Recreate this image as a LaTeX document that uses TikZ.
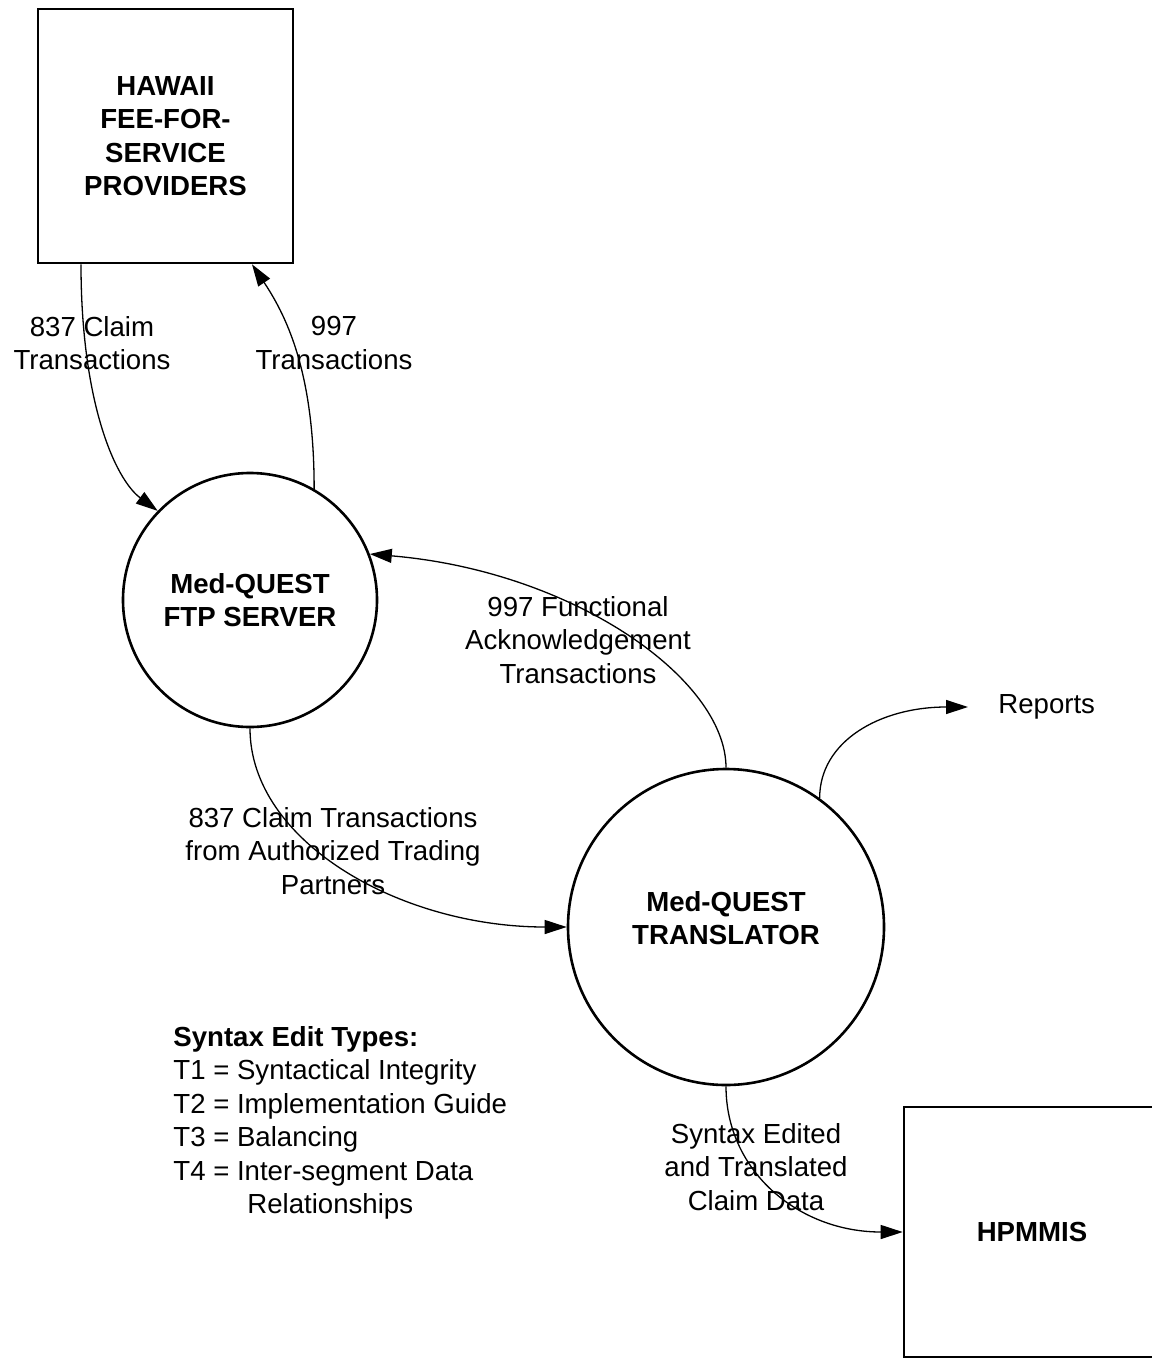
\documentclass[tikz,border=0pt]{standalone}
\usepackage{fontspec}
\setmainfont{Liberation Sans}
\usetikzlibrary{arrows.meta}

\begin{document}
\begin{tikzpicture}[x=0.5pt,y=-0.5pt,
  every node/.style={font=\fontsize{13.8}{16.75}\selectfont, align=center},
  entity/.style={draw, line width=1.3pt, minimum width=127.5pt, minimum height=127pt,
    font=\fontsize{13.8}{16.75}\selectfont\bfseries},
  proc/.style={draw, circle, line width=1.3pt, inner sep=0pt,
    font=\fontsize{13.8}{16.75}\selectfont\bfseries},
  bold/.style={font=\fontsize{13.8}{16.75}\selectfont\bfseries},
  flow/.style={line width=0.65pt, -{Triangle[length=11pt,width=7pt]}}]
  \useasboundingbox (0,0) rectangle (1151,1359);

  \node[entity] (hawaii) at (165.5,136) {HAWAII\\FEE-FOR-\\SERVICE\\PROVIDERS};
  \node[proc, minimum size=127pt] (ftp) at (250,600) {Med-QUEST\\FTP SERVER};
  \node[proc, minimum size=158pt] (trans) at (726,927) {};
  \node[bold] (transtxt) at ([yshift=4.5pt]trans.center) {Med-QUEST\\TRANSLATOR};
  \node[entity, minimum width=150pt, minimum height=125pt] (hpmmis) at (1054,1232) {};
  \node[bold] (hpmmistxt) at (1032,1232) {HPMMIS};
  \node[anchor=west, inner xsep=15pt, inner ysep=0pt] (reports) at (968,707) {Reports};

  \draw[flow] ([xshift=-42.25pt]hawaii.south) .. controls +(0,137) and +(-43,-32) .. (ftp.136);
  \draw[flow] (ftp.60) .. controls +(0,-110) and +(38,57) .. ([xshift=43.25pt]hawaii.south);
  \draw[flow] (trans.north) .. controls +(0,-89) and +(203,17) .. (ftp.21);
  \draw[flow] (ftp.south) .. controls +(0,113) and +(-167,0) .. (trans.west);
  \draw[flow] (trans.south) .. controls +(0,85) and +(-104,0) .. (hpmmis.west);
  \draw[flow] (trans.54) .. controls +(0,-57) and +(-88,0) .. (reports.west);

  \node (lclaim) at (92,343) {837 Claim\\Transactions};
  \node (lack) at (334,343) {997\\Transactions};
  \node (lfunc) at (578,640) {997 Functional\\Acknowledgement\\Transactions};
  \node (lauth) at (333,851) {837 Claim Transactions\\from Authorized Trading\\Partners};
  \node (ledit) at (756,1167) {Syntax Edited\\and Translated\\Claim Data};
  \node[anchor=north west, align=left, inner sep=0pt] (legend) at (173,1026)
    {\textbf{Syntax Edit Types:}\\T1 = Syntactical Integrity\\T2 = Implementation Guide\\
     T3 = Balancing\\T4 = Inter-segment Data\\\hspace*{37pt}Relationships};
\end{tikzpicture}
\end{document}
